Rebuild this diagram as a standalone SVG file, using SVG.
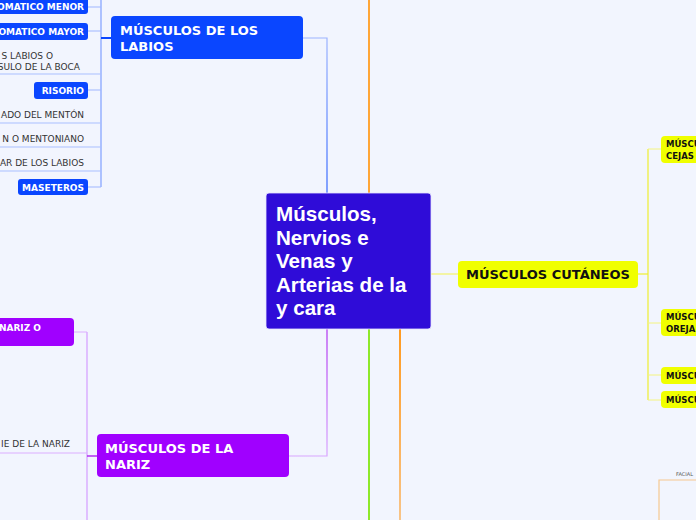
<svg xmlns="http://www.w3.org/2000/svg" width="696" height="520" viewBox="0 0 696 520">
<defs>
<linearGradient id="gBlue" gradientUnits="userSpaceOnUse" x1="0" y1="38" x2="0" y2="193"><stop offset="0" stop-color="#9db4ff"/><stop offset="1" stop-color="#3366ff"/></linearGradient>
<linearGradient id="gPurp" gradientUnits="userSpaceOnUse" x1="0" y1="329" x2="0" y2="456"><stop offset="0" stop-color="#b030f0"/><stop offset="1" stop-color="#d9a6ff"/></linearGradient>
<linearGradient id="gOr" gradientUnits="userSpaceOnUse" x1="0" y1="329" x2="0" y2="520"><stop offset="0" stop-color="#ff9a20"/><stop offset="1" stop-color="#f8c488"/></linearGradient>
<style>
.lbl{font-family:"DejaVu Sans",Verdana,sans-serif;}
.wb{fill:#fff;font-weight:bold;}
.tiny{font-size:9px;}
.mid{font-size:13px;}
.plain{fill:#333;font-size:9px;}
.c{fill:none;stroke-width:1.2;}
</style>
</defs>
<rect width="696" height="520" fill="#f2f5fe"/>
<g id="connectors">
<line x1="369" y1="0" x2="369" y2="193" stroke="#ffa638" stroke-width="2"/>
<polyline class="c" points="303,38 327,38 327,193" stroke="url(#gBlue)" stroke-width="1.5"/>
<polyline class="c" points="327,329 327,456 289,456" stroke="url(#gPurp)" stroke-width="1.5"/>
<line x1="369" y1="329" x2="369" y2="520" stroke="#8ee82a" stroke-width="2"/>
<line x1="400" y1="329" x2="400" y2="520" stroke="url(#gOr)" stroke-width="2"/>
<line x1="431" y1="274" x2="458" y2="274" stroke="#f4f46a" stroke-width="1.2"/>
<polyline class="c" points="638,274 648,274" stroke="#eeee30"/>
<line x1="648" y1="149" x2="648" y2="400" stroke="#eeee30" stroke-width="1.2"/>
<line x1="648" y1="149" x2="661" y2="149" stroke="#f4f480" stroke-width="1"/>
<line x1="648" y1="323" x2="661" y2="323" stroke="#f4f480" stroke-width="1"/>
<line x1="648" y1="375" x2="661" y2="375" stroke="#f4f480" stroke-width="1"/>
<line x1="648" y1="400" x2="661" y2="400" stroke="#f4f480" stroke-width="1"/>
<line x1="101" y1="0" x2="101" y2="187" stroke="#7f9fff" stroke-width="1.2"/>
<line x1="101" y1="38" x2="111" y2="38" stroke="#0a46ff" stroke-width="2"/>
<line x1="88" y1="7" x2="101" y2="7" stroke="#9fb6ff" stroke-width="1"/>
<line x1="88" y1="31" x2="101" y2="31" stroke="#9fb6ff" stroke-width="1"/>
<line x1="0" y1="74" x2="101" y2="74" stroke="#a9bfff" stroke-width="1"/>
<line x1="88" y1="90" x2="101" y2="90" stroke="#9fb6ff" stroke-width="1"/>
<line x1="0" y1="123" x2="101" y2="123" stroke="#a9bfff" stroke-width="1"/>
<line x1="0" y1="147" x2="101" y2="147" stroke="#a9bfff" stroke-width="1"/>
<line x1="0" y1="171" x2="101" y2="171" stroke="#a9bfff" stroke-width="1"/>
<line x1="88" y1="187" x2="101" y2="187" stroke="#9fb6ff" stroke-width="1"/>
<line x1="87" y1="332" x2="87" y2="520" stroke="#d49cff" stroke-width="1.2"/>
<line x1="74" y1="332" x2="87" y2="332" stroke="#dcaeff" stroke-width="1"/>
<line x1="0" y1="453" x2="87" y2="453" stroke="#dcaeff" stroke-width="1"/>
<line x1="87" y1="456" x2="97" y2="456" stroke="#b030f0" stroke-width="1.5"/>
<polyline class="c" points="659,520 659,480 696,480" stroke="#f5c890" stroke-width="1.2"/>
</g>
<g id="center">
<rect x="266" y="193" width="165" height="136" rx="3" fill="#2f0cd8" stroke="#e6e2ff" stroke-width="0.8"/>
<text font-family="'Liberation Sans',Arial,sans-serif" font-weight="bold" font-size="20.6" fill="#fff"><tspan x="276" y="221">Músculos,</tspan><tspan x="276" y="244.5">Nervios e</tspan><tspan x="276" y="268">Venas y</tspan><tspan x="276" y="291.5">Arterias de la</tspan><tspan x="276" y="315">y cara</tspan></text>
</g>
<g id="n-labios">
<rect x="111" y="16" width="192" height="43" rx="4" fill="#0a46ff"/>
<text class="lbl wb mid"><tspan x="120" y="35">MÚSCULOS DE LOS</tspan><tspan x="120" y="51">LABIOS</tspan></text>
</g>
<g id="n-nariz">
<rect x="97" y="434" width="192" height="43" rx="4" fill="#a000ff"/>
<text class="lbl wb mid"><tspan x="105" y="453">MÚSCULOS DE LA</tspan><tspan x="105" y="469">NARIZ</tspan></text>
</g>
<g id="n-cutaneos">
<rect x="458" y="261" width="180" height="27" rx="4" fill="#f0ff00"/>
<text class="lbl mid" x="466" y="279" font-weight="bold" fill="#111">MÚSCULOS CUTÁNEOS</text>
</g>
<g id="n-cejas">
<rect x="661" y="136" width="50" height="27" rx="4" fill="#f0ff00"/>
<text class="lbl" font-size="8.5" font-weight="bold" fill="#111"><tspan x="666" y="147">MÚSCU</tspan><tspan x="666" y="159">CEJAS</tspan></text>
</g>
<g id="n-oreja">
<rect x="661" y="309" width="50" height="27" rx="4" fill="#f0ff00"/>
<text class="lbl" font-size="8.5" font-weight="bold" fill="#111"><tspan x="666" y="320">MÚSCU</tspan><tspan x="666" y="332">OREJA</tspan></text>
</g>
<g id="n-cut3">
<rect x="661" y="367" width="50" height="17" rx="4" fill="#f0ff00"/>
<text class="lbl" x="666" y="379" font-size="8.5" font-weight="bold" fill="#111">MÚSCU</text>
</g>
<g id="n-cut4">
<rect x="661" y="391" width="50" height="17" rx="4" fill="#f0ff00"/>
<text class="lbl" x="666" y="403" font-size="8.5" font-weight="bold" fill="#111">MÚSCU</text>
</g>
<g id="n-cig-menor">
<rect x="-20" y="-4" width="108" height="18" rx="3" fill="#0a46ff"/>
<text class="lbl wb tiny" x="84" y="10" text-anchor="end">OMATICO MENOR</text>
</g>
<g id="n-cig-mayor">
<rect x="-20" y="23" width="108" height="17" rx="3" fill="#0a46ff"/>
<text class="lbl wb tiny" x="84" y="35" text-anchor="end">OMATICO MAYOR</text>
</g>
<g id="n-boca">
<text class="lbl plain" x="53" y="59" text-anchor="end">S LABIOS O</text>
<text class="lbl plain" x="80" y="70" text-anchor="end">SULO DE LA BOCA</text>
</g>
<g id="n-risorio">
<rect x="34" y="82" width="54" height="17" rx="3" fill="#0a46ff"/>
<text class="lbl wb tiny" x="84" y="94" text-anchor="end">RISORIO</text>
</g>
<g id="n-cuadrado">
<text class="lbl plain" x="84" y="118" text-anchor="end">ADO DEL MENTÓN</text>
</g>
<g id="n-borla">
<text class="lbl plain" x="84" y="142" text-anchor="end">N O MENTONIANO</text>
</g>
<g id="n-orbicular">
<text class="lbl plain" x="84" y="166" text-anchor="end">AR DE LOS LABIOS</text>
</g>
<g id="n-maseteros">
<rect x="18" y="179" width="70" height="16" rx="3" fill="#0a46ff"/>
<text class="lbl wb tiny" x="84" y="191" text-anchor="end">MASETEROS</text>
</g>
<g id="n-nariz1">
<rect x="-20" y="318" width="94" height="28" rx="4" fill="#a000ff"/>
<text class="lbl wb tiny" x="41" y="331" text-anchor="end">NARIZ O</text>
</g>
<g id="n-nariz2">
<text class="lbl plain" x="70" y="447" text-anchor="end">IE DE LA NARIZ</text>
</g>
<g id="n-facial">
<text class="lbl" x="676" y="476" font-size="5" fill="#555">FACIAL</text>
</g>
</svg>
